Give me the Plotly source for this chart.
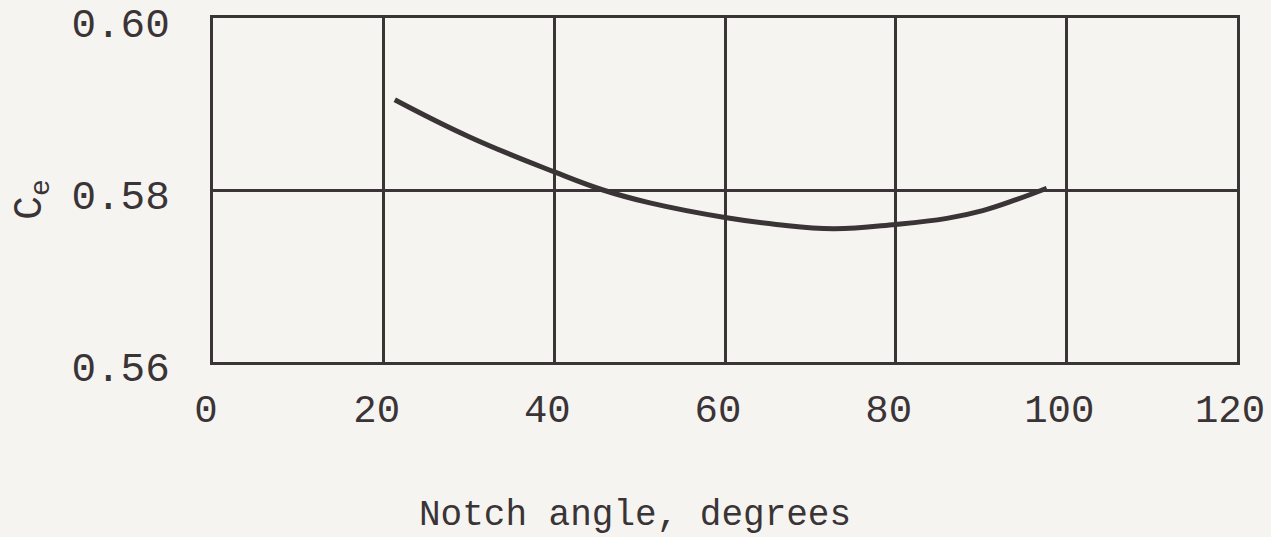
import plotly.graph_objects as go

# Data
notch_angle = [21.3, 30, 40, 45.7, 51.2, 60, 66, 72.7, 80, 86, 90.2, 94.2, 97.7]
ce_values = [0.5905, 0.5862, 0.5821, 0.5800, 0.5785, 0.5768, 0.5760, 0.5755, 0.5760, 0.5767, 0.5776, 0.5789, 0.5802]

x_ticks = [0, 20, 40, 60, 80, 100, 120]
y_ticks = [0.56, 0.58, 0.60]
y_tick_text = ["0.56", "0.58", "0.60"]

ink = "#3a3436"
paper = "#f6f4f1"
font_family = "Liberation Mono, DejaVu Sans Mono, monospace"

L, R, T, B = 213, 34, 18, 175
W, H = 1271, 537
pw, ph = W - L - R, H - T - B

fig = go.Figure()
fig.add_trace(go.Scatter(
    x=notch_angle, y=ce_values, mode="lines",
    line=dict(color=ink, width=5, shape="spline", smoothing=1.2),
    showlegend=False, hoverinfo="skip",
))

fig.update_layout(
    width=W, height=H,
    margin=dict(l=L, r=R, t=T, b=B, autoexpand=False),
    paper_bgcolor=paper, plot_bgcolor=paper,
    font=dict(family=font_family, color=ink, size=40),
    xaxis=dict(
        range=[0, 120], tickmode="array", tickvals=x_ticks,
        showgrid=True, gridcolor=ink, gridwidth=3,
        showline=True, linecolor=ink, linewidth=3, mirror=True,
        zeroline=False, ticks="", ticklabelstandoff=10, ticklabelshift=-7,
        ticklabeloverflow="allow", automargin=False,
        tickfont=dict(family=font_family, size=39, color=ink),
    ),
    yaxis=dict(
        range=[0.56, 0.60], tickmode="array", tickvals=y_ticks, ticktext=y_tick_text,
        showgrid=True, gridcolor=ink, gridwidth=3,
        showline=True, linecolor=ink, linewidth=3, mirror=True,
        zeroline=False, ticks="", ticklabelstandoff=32, ticklabelshift=5,
        ticklabeloverflow="allow", automargin=False,
        tickfont=dict(family=font_family, size=41, color=ink),
    ),
    annotations=[
        dict(text="Notch angle, degrees", xref="paper", yref="paper",
             x=(635 - L) / pw, y=-(515 - (T + ph)) / ph,
             xanchor="center", yanchor="middle", showarrow=False,
             font=dict(family=font_family, size=36, color=ink)),
        dict(text="C<sub>e</sub>", xref="paper", yref="paper",
             x=(32 - L) / pw, y=((T + ph) - 200) / ph, textangle=-90,
             xanchor="center", yanchor="middle", showarrow=False,
             font=dict(family=font_family, size=40, color=ink)),
    ],
)

fig.write_html("out.html", config={"displayModeBar": False},
               post_script="document.body.style.margin='0';document.body.style.padding='0';")
